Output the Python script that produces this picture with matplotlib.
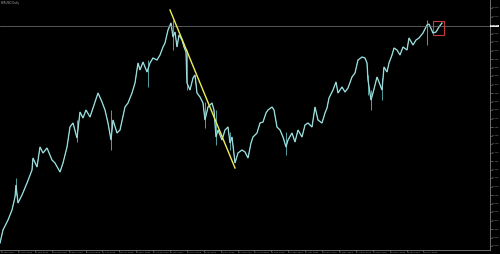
import matplotlib
matplotlib.use('Agg')
import matplotlib.pyplot as plt
from matplotlib.patches import Rectangle

# bar positions and closes (price in chart units)
bar_x = [0, 3, 8, 12, 15, 16, 18, 22, 27, 32, 33, 37, 40, 43, 47, 52, 55, 60,
         63, 67, 70, 73, 77, 80, 83, 86, 90, 93, 98, 102, 105, 108, 111, 113,
         117, 120, 125, 128, 132, 135, 138, 140, 143, 147, 150, 153, 157, 160,
         163, 165, 168, 171, 173, 175, 177, 179, 182, 184, 186, 187, 190, 193,
         195, 197, 200, 203, 205, 208, 212, 214, 216, 218, 222, 225, 228, 230,
         232, 235, 238, 242, 245, 248, 251, 253, 257, 260, 263, 266, 268, 272,
         274, 277, 280, 283, 286, 288, 292, 295, 298, 302, 305, 308, 312, 315,
         318, 322, 325, 327, 329, 333, 336, 338, 342, 345, 348, 352, 355, 358,
         362, 365, 367, 368, 371, 373, 377, 379, 382, 384, 387, 389, 392, 394,
         397, 400, 403, 407, 409, 413, 416, 419, 423, 427, 429, 433, 436, 439,
         442]
close = [7, 20, 30, 40, 53, 65, 47, 55, 67, 80, 92, 83, 103, 97, 102, 90, 87,
         78, 87, 103, 123, 127, 112, 138, 132, 140, 133, 142, 157, 148, 140,
         127, 110, 130, 117, 120, 143, 147, 157, 167, 187, 180, 188, 178, 187,
         192, 190, 195, 203, 207, 220, 227, 213, 218, 203, 215, 210, 203, 198,
         167, 160, 172, 175, 157, 153, 147, 130, 143, 147, 140, 113, 120, 110,
         120, 123, 107, 113, 87, 97, 100, 98, 92, 107, 113, 117, 127, 128, 137,
         140, 143, 140, 123, 120, 113, 103, 110, 117, 108, 120, 113, 125, 127,
         123, 143, 130, 127, 137, 142, 152, 160, 168, 157, 163, 158, 162, 173,
         177, 190, 193, 192, 187, 170, 150, 157, 173, 168, 160, 183, 178, 187,
         195, 202, 200, 195, 203, 200, 212, 205, 210, 212, 217, 225, 226, 217,
         218, 223, 227]

# a few long wicks visible in the picture
wick_x = [16, 77, 111, 148, 173, 187, 205, 216, 230, 286, 368, 371, 382, 427]
wick_lo = [55, 108, 100, 163, 200, 160, 122, 105, 100, 95, 155, 140, 150, 205]
wick_hi = [72, 130, 140, 190, 230, 200, 148, 140, 118, 118, 175, 160, 172, 230]

trend_x = [170, 235]
trend_y = [240, 82]
level = 224
box = (433, 215, 11, 14)  # x, y, w, h

price_labels = ['1.%04d' % (900 + 25 * i) for i in range(29)]
date_labels = ['%d %s %d' % (d, m, 2019) for d, m in
               [(2, 'Jan'), (17, 'Jan'), (1, 'Feb'), (18, 'Feb'), (5, 'Mar'),
                (20, 'Mar'), (4, 'Apr'), (19, 'Apr'), (6, 'May'), (21, 'May'),
                (5, 'Jun'), (20, 'Jun'), (5, 'Jul'), (22, 'Jul'), (6, 'Aug'),
                (21, 'Aug'), (5, 'Sep'), (20, 'Sep'), (7, 'Oct'), (22, 'Oct'),
                (6, 'Nov'), (21, 'Nov'), (6, 'Dec'), (23, 'Dec'), (8, 'Jan'),
                (23, 'Jan')]]

fig = plt.figure(figsize=(5, 2.54), dpi=100, facecolor='black')
ax = fig.add_axes([0, 4 / 254, 490 / 500, 250 / 254], facecolor='black')
ax.set_xlim(0, 490)
ax.set_ylim(0, 250)

# bars drawn as a jagged close line, teal with light centre, plus wicks
ax.vlines(wick_x, wick_lo, wick_hi, color='#5fb8b8', lw=0.6)
ax.plot(bar_x, close, color='#5fb8b8', lw=1.0, solid_joinstyle='miter')
ax.plot(bar_x, close, color='#e2f4f4', lw=0.35)

ax.axhline(level, color='#7a7a7a', lw=0.5)
ax.plot(trend_x, trend_y, color='#eeee55', lw=1.0)
ax.add_patch(Rectangle(box[:2], box[2], box[3], fill=False,
                       edgecolor='#c83a3a', lw=0.8))

for s in ['top', 'left']:
    ax.spines[s].set_visible(False)
for s in ['right', 'bottom']:
    ax.spines[s].set_color('#808080')
    ax.spines[s].set_linewidth(0.6)
ax.set_xticks([])
ax.set_yticks([])

# right price scale
for i, lab in enumerate(price_labels):
    v = 4 + 8.5 * i
    ax.plot([490, 491.5], [v, v], color='#808080', lw=0.4, clip_on=False)
    ax.text(492, v, lab, color='#9a9a9a', fontsize=1.6, va='center',
            ha='left', clip_on=False)
ax.text(491, level, '1.6500', color='black', fontsize=1.6, va='center',
        ha='left', clip_on=False,
        bbox=dict(facecolor='#e8e8e8', edgecolor='none', pad=0.5))

# bottom time scale
for i, lab in enumerate(date_labels):
    xx = 1 + 16.9 * i
    if xx > 445:
        break
    ax.plot([xx, xx], [0, -1.5], color='#808080', lw=0.4, clip_on=False)
    ax.text(xx + 1, -2.3, lab, color='#9a9a9a', fontsize=1.6, va='center',
            ha='left', clip_on=False)

fig.text(0.002, 0.996, 'EURUSD,Daily', color='#a0a0a0', fontsize=2.0,
         va='top', ha='left')

fig.savefig('out.png', dpi=100, facecolor='black')
